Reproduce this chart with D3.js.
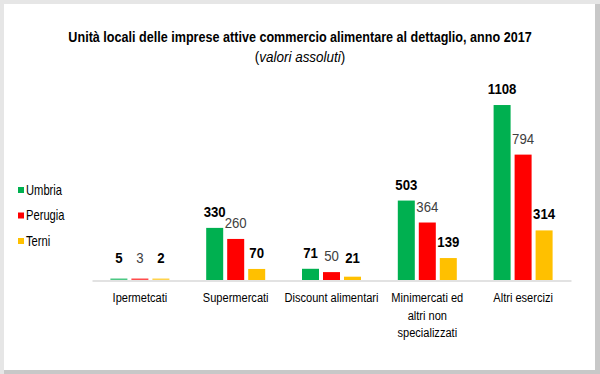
<!DOCTYPE html>
<html>
<head>
<meta charset="utf-8">
<script src="https://cdn.jsdelivr.net/npm/d3@7"></script>
<style>
	body { margin: 0; background: #fff; }
	svg { display: block; }
</style>
</head>
<body>
<div id="chart"></div>
<script>
// Dati: unità locali commercio alimentare al dettaglio, 2017
var categories = ['Ipermetcati', 'Supermercati', 'Discount alimentari', 'Minimercati ed altri non specializzati', 'Altri esercizi'];
var tickLabels = [['Ipermetcati'], ['Supermercati'], ['Discount alimentari'], ['Minimercati ed', 'altri non', 'specializzati'], ['Altri esercizi']];
var seriesNames = ['Umbria', 'Perugia', 'Terni'];
var umbria = [5, 330, 71, 503, 1108];
var perugia = [3, 260, 50, 364, 794];
var terni = [2, 70, 21, 139, 314];

var seriesColors = {
	'Umbria': '#00b050',
	'Perugia': '#ff0000',
	'Terni': '#ffc000',
};

var FONT = '"Liberation Sans", Arial, sans-serif';

// no narrow font installed -> squeeze text horizontally
function addText(parent, x, y, size, sx) {
	return parent.append('text')
		.attr('transform', 'translate(' + x + ',' + y + ') scale(' + sx + ',1)')
		.attr('font-family', FONT)
		.attr('font-size', size)
		.attr('fill', '#000');
}

function DrawChart(location) {
	var width = 600;
	var height = 374;

	var svg = d3.select(location).append('svg')
		.attr('width', width)
		.attr('height', height);

	// frame with light shadow
	svg.append('rect').attr('x', 0).attr('y', 0).attr('width', width).attr('height', height).attr('fill', '#e6e6e6');
	svg.append('rect').attr('x', 4).attr('y', 4).attr('width', 596).attr('height', 370).attr('fill', '#c8c8c8');
	svg.append('rect').attr('x', 4).attr('y', 4).attr('width', 591).attr('height', 366).attr('fill', '#ffffff');

	var g = svg.append('g');

	// titles
	addText(g, 300, 42, 15, 0.84)
		.attr('text-anchor', 'middle')
		.attr('font-weight', 'bold')
		.text('Unità locali delle imprese attive commercio alimentare al dettaglio, anno 2017');
	var sub = addText(g, 300, 62, 15, 0.9)
		.attr('text-anchor', 'middle');
	sub.append('tspan').text('(');
	sub.append('tspan').attr('font-style', 'italic').text('valori assoluti');
	sub.append('tspan').text(')');

	var data = seriesNames.map(function(name, i) {
		var vals = [umbria, perugia, terni][i];
		return { name: name, values: vals };
	});

	// scales
	var scaleX = d3.scaleBand()
		.domain(categories)
		.range([92, 571]);
	var scaleSub = d3.scaleBand()
		.domain(seriesNames)
		.range([-29.5, 29.5])
		.paddingInner(4 / 21)
		.paddingOuter(0);
	var scaleY = d3.scaleLinear()
		.domain([0, 1200])
		.range([280, 90.5]);

	// x axis (drawn first so the tiny bars stay visible on top)
	var xAxisCall = d3.axisBottom(scaleX).tickSize(0).tickFormat('');
	var xAxis = g.append('g')
		.attr('id', 'x-axis')
		.attr('transform', 'translate(0,' + 280.5 + ')')
		.call(xAxisCall);
	xAxis.select('.domain').attr('stroke', '#d9d9d9').attr('stroke-width', 1.5);

	xAxis.selectAll('.tick').each(function(d, i) {
		var t = d3.select(this).append('text')
			.attr('transform', 'scale(0.82,1)')
			.attr('text-anchor', 'middle')
			.attr('font-family', FONT)
			.attr('font-size', 13.5)
			.attr('fill', '#000');
		tickLabels[i].forEach(function(line, j) {
			t.append('tspan').attr('x', 0).attr('y', 22 + j * 17.5).text(line);
		});
	});

	// bars
	data.forEach(function(s) {
		var grp = g.append('g').attr('class', 'series');
		// very small values still show as a thin coloured line
		function barH(d) { return Math.max(scaleY(0) - scaleY(d), 1.5); }
		grp.selectAll('rect')
			.data(s.values)
			.enter().append('rect')
			.attr('x', function(d, i) { return scaleX(categories[i]) + scaleX.bandwidth() / 2 + scaleSub(s.name); })
			.attr('y', function(d) { return scaleY(0) - barH(d); })
			.attr('width', scaleSub.bandwidth())
			.attr('height', barH)
			.attr('fill', seriesColors[s.name])
			.attr('fill-opacity', function(d) { return scaleY(0) - scaleY(d) < 1.5 ? 0.7 : 1; });

		// value labels
		s.values.forEach(function(d, i) {
			var cx = scaleX(categories[i]) + scaleX.bandwidth() / 2 + scaleSub(s.name) + scaleSub.bandwidth() / 2;
			var cy = Math.min(scaleY(d) - 11, scaleY(0) - 17);
			addText(grp, cx, cy, 15, 0.88)
				.attr('text-anchor', 'middle')
				.attr('font-weight', s.name === 'Perugia' ? 'normal' : 'bold')
				.attr('fill', s.name === 'Perugia' ? '#404040' : '#000')
				.text(d);
		});
	});

	// legend
	var legend = g.append('g').attr('transform', 'translate(18, 0)');
	seriesNames.forEach(function(name, i) {
		var yy = 190 + i * 25.5;
		legend.append('rect')
			.attr('x', 0).attr('y', yy - 3)
			.attr('width', 6).attr('height', 6)
			.attr('fill', seriesColors[name]);
		addText(legend, 8, yy + 4.5, 14, 0.8)
			.text(name);
	});
}

DrawChart('#chart');
</script>
</body>
</html>
